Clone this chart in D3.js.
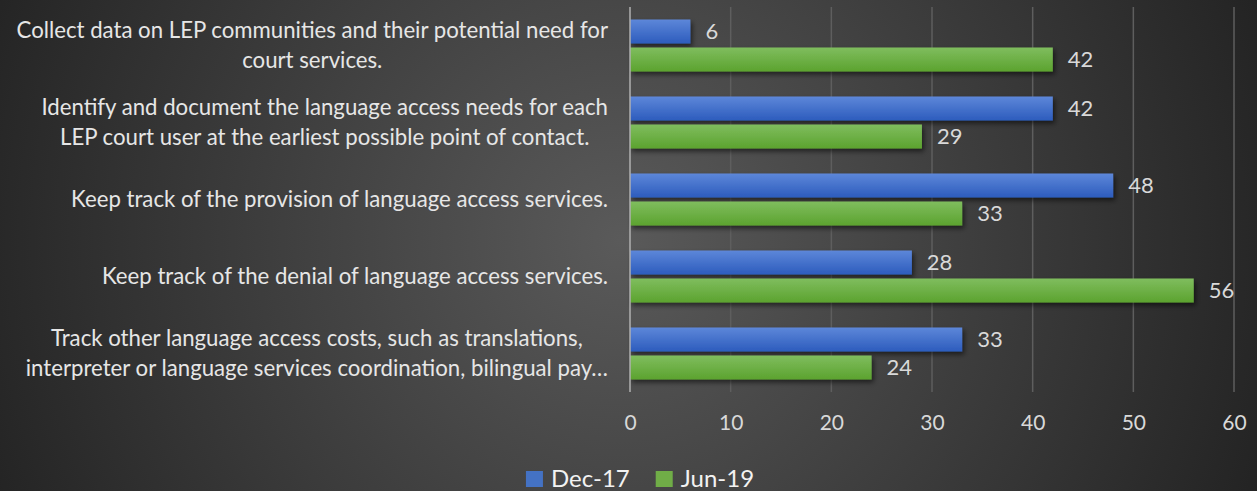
<!DOCTYPE html>
<html>
<head>
<meta charset="utf-8">
<script src="https://cdn.jsdelivr.net/npm/d3@7"></script>
<style>
  html, body { margin: 0; padding: 0; background: #2a2a2a; }
  svg { display: block; }
  text { font-family: Lato, "Open Sans", sans-serif; }
</style>
</head>
<body>
<svg id="chart" width="1257" height="491"></svg>
<script>
// ---- data ----
const categories = [
  ["Collect data on LEP communities and their potential need for", "court services."],
  ["Identify and document the language access needs for each", "LEP court user at the earliest possible point of contact."],
  ["Keep track of the provision of language access services."],
  ["Keep track of the denial of language access services."],
  ["Track other language access costs, such as translations,", "interpreter or language services coordination, bilingual pay\u2026"]
];
const seriesNames = ["Dec-17", "Jun-19"];
const dec17 = [6, 42, 48, 28, 33];
const jun19 = [42, 29, 33, 56, 24];
const xTicks = [0, 10, 20, 30, 40, 50, 60];

// ---- setup ----
const W = 1257, H = 491;
const svg = d3.select("#chart");
const defs = svg.append("defs");

const bg = defs.append("radialGradient").attr("id", "bg")
  .attr("gradientUnits", "userSpaceOnUse")
  .attr("cx", 620).attr("cy", 240).attr("r", 700);
bg.append("stop").attr("offset", "0").attr("stop-color", "#5a5a5a");
bg.append("stop").attr("offset", "1").attr("stop-color", "#222222");
svg.append("rect").attr("width", W).attr("height", H).attr("fill", "url(#bg)");

const grads = [
  {id: "gBlue", top: "#5d87d9", bot: "#2d5cbd"},
  {id: "gGreen", top: "#7fbd5e", bot: "#5ca32f"}
];
grads.forEach(g => {
  const lg = defs.append("linearGradient").attr("id", g.id)
    .attr("x1", 0).attr("y1", 0).attr("x2", 0).attr("y2", 1);
  lg.append("stop").attr("offset", "0").attr("stop-color", g.top);
  lg.append("stop").attr("offset", "1").attr("stop-color", g.bot);
});
const legendColors = ["#4472c4", "#70ad47"];

const shadow = defs.append("filter").attr("id", "shadow")
  .attr("x", "-10%").attr("y", "-30%").attr("width", "130%").attr("height", "180%");
shadow.append("feDropShadow").attr("dx", 2).attr("dy", 3)
  .attr("stdDeviation", 2.5).attr("flood-color", "#000").attr("flood-opacity", 0.55);

// ---- scales ----
const x = d3.scaleLinear().domain([0, 60]).range([630, 1234]);
const y = d3.scaleBand().domain(d3.range(categories.length)).range([7, 392]);
const yInner = d3.scaleBand().domain(seriesNames).range([12.5, 64.5]).paddingInner(4 / 28);

// ---- gridlines ----
svg.append("g").selectAll("line").data(xTicks.slice(1)).join("line")
  .attr("x1", d => x(d)).attr("x2", d => x(d))
  .attr("y1", 7).attr("y2", 392)
  .attr("stroke", "#5e5e5e").attr("stroke-width", 1.5);

// ---- bars ----
const seriesData = [dec17, jun19];
const barG = svg.append("g");
seriesNames.forEach((s, si) => {
  barG.append("g").selectAll("rect").data(seriesData[si]).join("rect")
    .attr("x", x(0))
    .attr("y", (d, i) => y(i) + yInner(s))
    .attr("width", d => x(d) - x(0))
    .attr("height", yInner.bandwidth())
    .attr("fill", `url(#${grads[si].id})`)
    .attr("filter", "url(#shadow)");
});

// ---- value labels ----
seriesNames.forEach((s, si) => {
  svg.append("g").selectAll("text").data(seriesData[si]).join("text")
    .attr("x", d => x(d) + 15)
    .attr("y", (d, i) => y(i) + yInner(s) + yInner.bandwidth() / 2)
    .attr("dy", "0.35em")
    .attr("fill", "#d9d9d9")
    .attr("font-size", 22)
    .text(d => d);
});

// ---- category axis line ----
svg.append("line").attr("x1", x(0)).attr("x2", x(0)).attr("y1", 7).attr("y2", 392)
  .attr("stroke", "#b0b0b0").attr("stroke-width", 1.5);

// ---- x axis ----
const xAxis = svg.append("g").attr("transform", "translate(0,392)")
  .call(d3.axisBottom(x).tickValues(xTicks).tickSize(0).tickPadding(0));
xAxis.select(".domain").remove();
xAxis.selectAll("text")
  .attr("y", 31).attr("dy", "0.35em")
  .attr("fill", "#d9d9d9").attr("font-size", 21)
  .attr("font-family", "Lato, 'Open Sans', sans-serif");

// ---- category labels ----
const labelRight = 608;
const lineGap = 30;
const catG = svg.append("g");
categories.forEach((lines, i) => {
  const cy = y(i) + y.bandwidth() / 2;
  const t = catG.append("text")
    .attr("fill", "#e6e6e6").attr("font-size", 22.2)
    .attr("text-anchor", "middle");
  const spans = lines.map((ln, k) =>
    t.append("tspan")
      .attr("y", cy + (k - (lines.length - 1) / 2) * lineGap)
      .attr("dy", "0.35em")
      .text(ln));
  const maxW = d3.max(spans, s => s.node().getComputedTextLength());
  spans.forEach(s => s.attr("x", labelRight - maxW / 2));
});

// ---- legend ----
const legend = svg.append("g");
let lx = 0;
seriesNames.forEach((s, si) => {
  const g = legend.append("g").attr("transform", `translate(${lx},0)`);
  g.append("rect").attr("x", 0).attr("y", 471).attr("width", 17).attr("height", 16)
    .attr("fill", legendColors[si]);
  const tx = g.append("text").attr("x", 25).attr("y", 479).attr("dy", "0.35em")
    .attr("fill", "#f2f2f2").attr("font-size", 24).text(s);
  lx += 25 + tx.node().getComputedTextLength() + 26;
});
const lw = lx - 26;
legend.attr("transform", `translate(${640 - lw / 2},0)`);
</script>
</body>
</html>
